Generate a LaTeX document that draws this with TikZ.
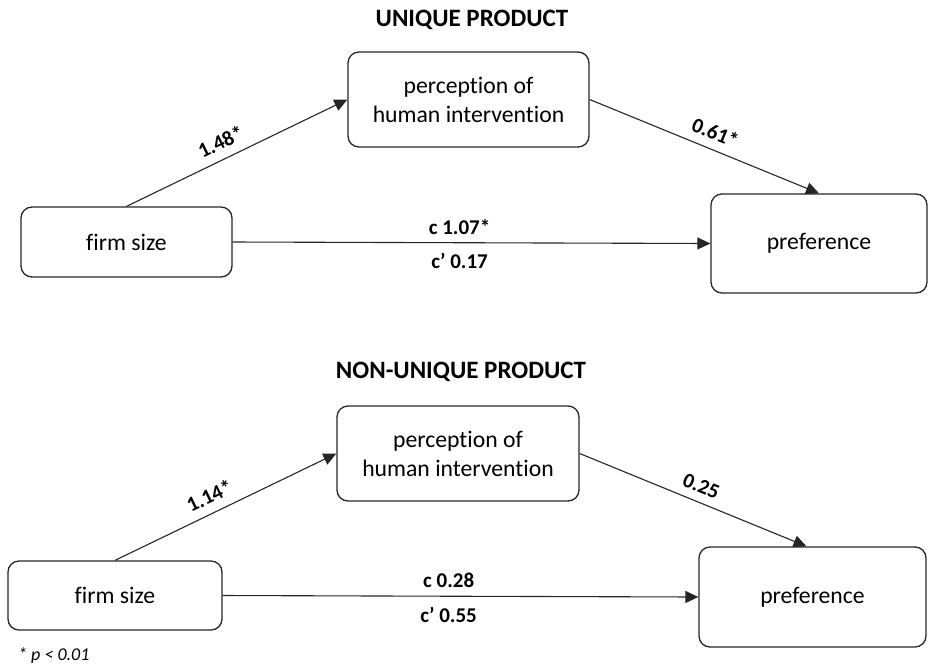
\documentclass[tikz,border=0pt]{standalone}
\usepackage{fontspec}
\setmainfont[Ligatures={NoCommon}]{Carlito}
\usetikzlibrary{arrows.meta}
\begin{document}
\begin{tikzpicture}[x=1pt,y=-1pt,
  box/.style={draw=black!85, line width=1.3pt, rounded corners=11pt, align=center,
    font=\fontsize{23.7}{29}\selectfont, inner sep=0pt},
  conn/.style={draw=black!85, line width=1.1pt, -{Triangle[length=13pt,width=12pt]}},
  lab/.style={font=\bfseries\fontsize{21}{24}\selectfont, inner sep=0pt},
  ttl/.style={font=\bfseries\fontsize{25}{28}\selectfont, inner sep=0pt}]
\useasboundingbox (0,0) rectangle (928,665);

% ---------- top ----------
\node[ttl] (t1) at (472,20) {UNIQUE PRODUCT};
\node[box, minimum width=241pt, minimum height=95pt] (med1) at (468.5,99.5) {perception of\\human intervention};
\node[box, minimum width=211pt, minimum height=70pt] (firm1) at (126.5,242) {firm size};
\node[box, minimum width=216pt, minimum height=99pt] (pref1) at (819,243.5) {preference};

\draw[conn] (firm1.north) -- node[lab, sloped, above=9pt, pos=0.46] (l1) {1.48*} (med1.west);
\draw[conn] (med1.east) -- node[lab, sloped, above=9pt, pos=0.52] (l2) {0.61*} (pref1.north);
\draw[conn] (firm1.east) -- node[lab, above=8pt, pos=0.475] (l3) {c 1.07*}
                           node[lab, below=10pt, pos=0.475] (l4) {c\symbol{39} 0.17} (pref1.west);

% ---------- bottom ----------
\node[ttl] (t2) at (461,372) {NON-UNIQUE PRODUCT};
\node[box, minimum width=242pt, minimum height=95pt] (med2) at (458,453.5) {perception of\\human intervention};
\node[box, minimum width=214pt, minimum height=69pt] (firm2) at (115,595.5) {firm size};
\node[box, minimum width=227pt, minimum height=100pt] (pref2) at (812.5,597) {preference};

\draw[conn] (firm2.north) -- node[lab, sloped, above=9pt, pos=0.46] (l5) {1.14*} (med2.west);
\draw[conn] (med2.east) -- node[lab, sloped, above=8pt, pos=0.51] (l6) {0.25} ([xshift=-6pt]pref2.north);
\draw[conn] (firm2.east) -- node[lab, above=8pt, pos=0.475] (l7) {c 0.28}
                           node[lab, below=10pt, pos=0.475] (l8) {c\symbol{39} 0.55} (pref2.west);

\node[anchor=west, inner sep=0pt, font=\itshape\fontsize{18}{20}\selectfont] (note) at (18,656) {* p < 0.01};
\end{tikzpicture}
\end{document}
